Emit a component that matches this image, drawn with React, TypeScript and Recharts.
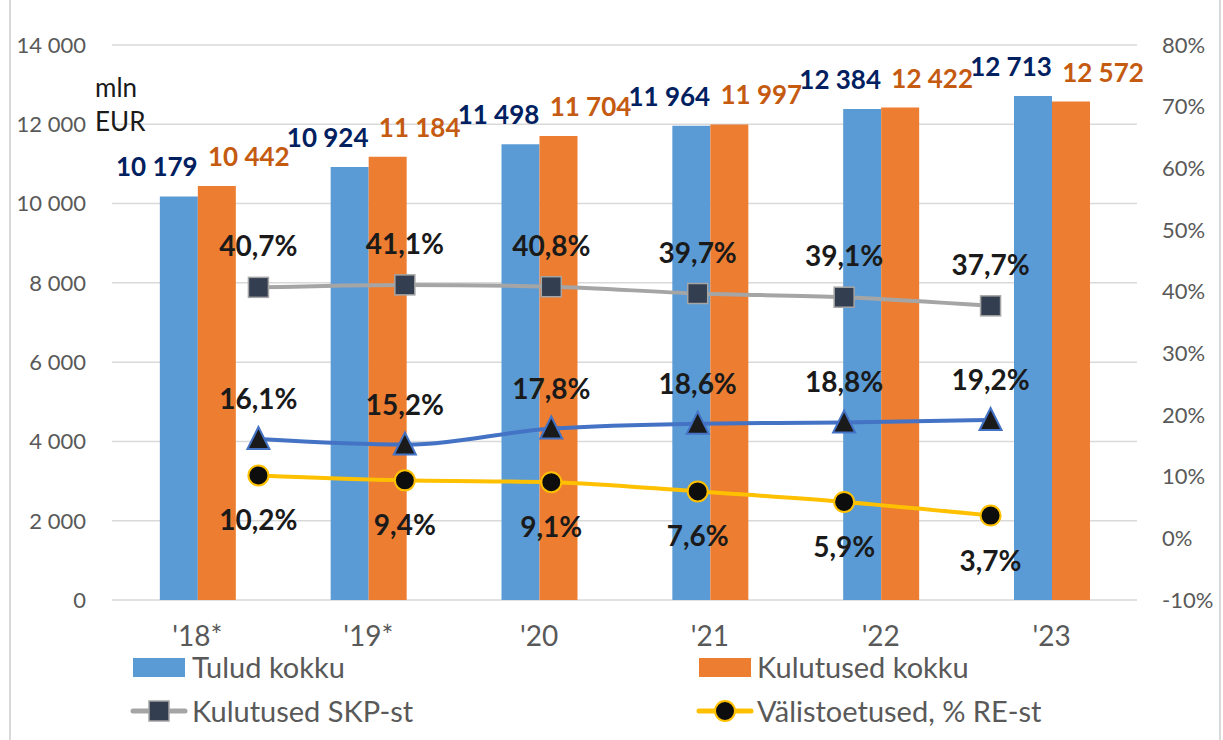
import React from "react";
import {
  ComposedChart,
  Bar,
  Line,
  XAxis,
  YAxis,
  CartesianGrid,
  LabelList,
} from "recharts";

const categories = ["'18*", "'19*", "'20", "'21", "'22", "'23"];
const tulud = [10179, 10924, 11498, 11964, 12384, 12713];
const kulud = [10442, 11184, 11704, 11997, 12422, 12572];
const kulutusedSkp = [40.7, 41.1, 40.8, 39.7, 39.1, 37.7];
const sotsiaal = [16.1, 15.2, 17.8, 18.6, 18.8, 19.2];
const valistoetused = [10.2, 9.4, 9.1, 7.6, 5.9, 3.7];
const leftTicks = [0, 2000, 4000, 6000, 8000, 10000, 12000, 14000];
const rightTicks = [-10, 0, 10, 20, 30, 40, 50, 60, 70, 80];

const data = categories.map((c, i) => ({
  cat: c,
  pos: i + 1,
  tulud: tulud[i],
  kulud: kulud[i],
  skp: kulutusedSkp[i],
  sots: sotsiaal[i],
  valis: valistoetused[i],
}));

const FONT = "Lato, 'Noto Sans', sans-serif";
const GRAY_TXT = "#595959";

const fmtThousands = (n: number) =>
  String(n).replace(/\B(?=(\d{3})+(?!\d))/g, " ");
const fmtPct = (v: number) => v.toFixed(1).replace(".", ",") + "%";

const barLabel = (color: string, dx: number) => (props: any) => {
  const { x, y, width, value } = props;
  return (
    <text
      x={Number(x) + Number(width) / 2 + dx}
      y={Number(y) - 30}
      textAnchor="middle"
      dominantBaseline="central"
      fill={color}
      fontFamily={FONT}
      fontWeight={700}
      fontSize={26}
    >
      {fmtThousands(Number(value))}
    </text>
  );
};

const lineLabel = (dy: number) => (props: any) => {
  const { x, y, value } = props;
  return (
    <text
      x={Number(x)}
      y={Number(y) + dy}
      textAnchor="middle"
      dominantBaseline="central"
      fill="#1a1a1a"
      fontFamily={FONT}
      fontWeight={700}
      fontSize={28}
    >
      {fmtPct(Number(value))}
    </text>
  );
};

const SquareDot = (props: any) => {
  const { cx, cy } = props;
  if (cx == null || cy == null) return null;
  return (
    <rect
      x={cx - 10}
      y={cy - 10}
      width={20}
      height={20}
      fill="#333F50"
      stroke="#A5A5A5"
      strokeWidth={1.5}
    />
  );
};

const TriangleDot = (props: any) => {
  const { cx, cy } = props;
  if (cx == null || cy == null) return null;
  return (
    <polygon
      points={`${cx},${cy - 12} ${cx - 11},${cy + 10} ${cx + 11},${cy + 10}`}
      fill="#1a1a1a"
      stroke="#4472C4"
      strokeWidth={2}
    />
  );
};

const CircleDot = (props: any) => {
  const { cx, cy } = props;
  if (cx == null || cy == null) return null;
  return (
    <circle cx={cx} cy={cy} r={10} fill="#0D0D0D" stroke="#FFC000" strokeWidth={2} />
  );
};

const legendText: React.CSSProperties = {
  position: "absolute",
  fontFamily: FONT,
  fontSize: 29,
  color: GRAY_TXT,
  lineHeight: "34px",
  whiteSpace: "nowrap",
};

const LineIcon = ({ color, kind }: { color: string; kind: "square" | "circle" }) => (
  <svg width={58} height={24} style={{ display: "block" }}>
    <line x1={3} y1={12} x2={55} y2={12} stroke={color} strokeWidth={5} strokeLinecap="round" />
    {kind === "square" ? (
      <rect x={19} y={2} width={20} height={20} fill="#333F50" stroke="#A5A5A5" strokeWidth={1.5} />
    ) : (
      <circle cx={29} cy={12} r={10} fill="#0D0D0D" stroke="#FFC000" strokeWidth={2} />
    )}
  </svg>
);

export default function App() {
  return (
    <div
      style={{
        position: "absolute",
        left: 0,
        top: 0,
        width: 1223,
        height: 740,
        background: "#fff",
        overflow: "hidden",
      }}
    >
      <ComposedChart
        width={1223}
        height={740}
        data={data}
        margin={{ top: 45, right: 6, bottom: 100, left: 12 }}
        barGap={0}
        barCategoryGap="28%"
      >
        <CartesianGrid
          xAxisId="cat"
          yAxisId="left"
          vertical={false}
          stroke="#D9D9D9"
          strokeWidth={1.5}
        />
        <XAxis
          xAxisId="cat"
          dataKey="cat"
          axisLine={false}
          tickLine={false}
          tickSize={0}
          tickMargin={26}
          height={40}
          interval={0}
          tick={{ fill: GRAY_TXT, fontSize: 28, fontFamily: FONT }}
        />
        <XAxis
          xAxisId="pos"
          dataKey="pos"
          type="number"
          domain={[0, 7]}
          hide
        />
        <YAxis
          yAxisId="left"
          width={100}
          domain={[0, 14000]}
          ticks={leftTicks}
          interval={0}
          axisLine={false}
          tickLine={false}
          tickSize={0}
          tickMargin={26}
          tickFormatter={(v: number) => fmtThousands(v)}
          tick={{ fill: GRAY_TXT, fontSize: 22, fontFamily: FONT }}
        />
        <YAxis
          yAxisId="right"
          orientation="right"
          width={80}
          domain={[-10, 80]}
          ticks={rightTicks}
          interval={0}
          axisLine={false}
          tickLine={false}
          tickSize={0}
          tickMargin={25}
          tickFormatter={(v: number) => `${v}%`}
          tick={{ fill: GRAY_TXT, fontSize: 22, fontFamily: FONT }}
        />
        <Bar
          xAxisId="cat"
          yAxisId="left"
          dataKey="tulud"
          name="Tulud kokku"
          fill="#5B9BD5"
          isAnimationActive={false}
        >
          <LabelList dataKey="tulud" content={barLabel("#002060", -22)} />
        </Bar>
        <Bar
          xAxisId="cat"
          yAxisId="left"
          dataKey="kulud"
          name="Kulutused kokku"
          fill="#ED7D31"
          isAnimationActive={false}
        >
          <LabelList dataKey="kulud" content={barLabel("#C55A11", 32)} />
        </Bar>
        <Line
          xAxisId="pos"
          yAxisId="right"
          dataKey="skp"
          name="Kulutused SKP-st"
          type="monotone"
          stroke="#A5A5A5"
          strokeWidth={4}
          dot={<SquareDot />}
          activeDot={false}
          isAnimationActive={false}
        >
          <LabelList dataKey="skp" content={lineLabel(-42)} />
        </Line>
        <Line
          xAxisId="pos"
          yAxisId="right"
          dataKey="sots"
          name="Sotsiaalkulud"
          type="monotone"
          stroke="#4472C4"
          strokeWidth={4}
          dot={<TriangleDot />}
          activeDot={false}
          isAnimationActive={false}
        >
          <LabelList dataKey="sots" content={lineLabel(-41)} />
        </Line>
        <Line
          xAxisId="pos"
          yAxisId="right"
          dataKey="valis"
          name="Välistoetused, % RE-st"
          type="monotone"
          stroke="#FFC000"
          strokeWidth={4}
          dot={<CircleDot />}
          activeDot={false}
          isAnimationActive={false}
        >
          <LabelList dataKey="valis" content={lineLabel(44)} />
        </Line>
      </ComposedChart>

      {/* unit label */}
      <div
        style={{
          position: "absolute",
          left: 95,
          top: 70,
          fontFamily: FONT,
          fontSize: 26,
          lineHeight: "34px",
          color: "#1a1a1a",
        }}
      >
        mln
        <br />
        EUR
      </div>

      {/* legend */}
      <div style={{ position: "absolute", left: 133, top: 658, width: 52, height: 19, background: "#5B9BD5" }} />
      <div style={{ ...legendText, left: 192, top: 650 }}>Tulud kokku</div>
      <div style={{ position: "absolute", left: 699, top: 658, width: 52, height: 19, background: "#ED7D31" }} />
      <div style={{ ...legendText, left: 757, top: 650 }}>Kulutused kokku</div>
      <div style={{ position: "absolute", left: 130, top: 699 }}>
        <LineIcon color="#A5A5A5" kind="square" />
      </div>
      <div style={{ ...legendText, left: 192, top: 694 }}>Kulutused SKP-st</div>
      <div style={{ position: "absolute", left: 696, top: 699 }}>
        <LineIcon color="#FFC000" kind="circle" />
      </div>
      <div style={{ ...legendText, left: 757, top: 694 }}>Välistoetused, % RE-st</div>

      {/* chart border */}
      <div style={{ position: "absolute", left: 9, top: 0, width: 2, height: 740, background: "#D9D9D9" }} />
      <div style={{ position: "absolute", left: 1219, top: 0, width: 2, height: 740, background: "#D9D9D9" }} />
    </div>
  );
}
